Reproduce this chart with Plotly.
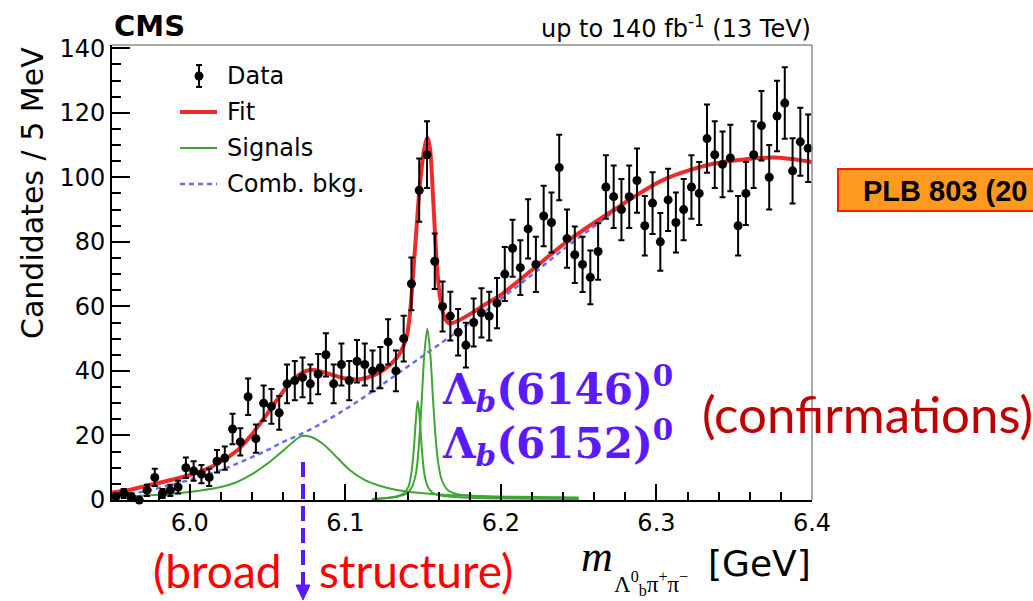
import numpy as np
import plotly.graph_objects as go

# ---------------- data ----------------
mass_low = 5.95          # GeV, lower edge of the histogram
bin_width = 0.005        # GeV (5 MeV bins)
counts = [1, 2, 1, 0, 3, 7, 2, 3, 4, 10,
          9, 8, 7, 12, 13, 22, 18, 32, 19, 30,
          29, 27, 36, 37, 38, 36, 39, 45, 36, 42,
          37, 43, 42, 40, 41, 49, 40, 50, 67, 96,
          107, 74, 60, 57, 52, 48, 55, 58, 57, 61,
          70, 78, 72, 84, 73, 88, 86, 103, 81, 76,
          73, 69, 77, 97, 94, 90, 94, 99, 85, 92,
          80, 93, 86, 90, 97, 95, 112, 107, 104, 106,
          85, 95, 107, 116, 100, 119, 123, 102, 111, 109]

fit_x = [5.950, 5.960, 5.971, 5.988, 6.000, 6.010, 6.020, 6.031, 6.039, 6.049,
         6.058, 6.067, 6.077, 6.088, 6.099, 6.109, 6.120, 6.129, 6.1351, 6.1394,
         6.1416, 6.1448, 6.1480, 6.1510, 6.1527, 6.1544, 6.1566, 6.1587, 6.1608, 6.1641,
         6.1673, 6.1726, 6.1812, 6.1898, 6.2000, 6.2187, 6.2423, 6.2723, 6.3044, 6.3366,
         6.3752, 6.4000]
fit_y = [2.3, 3.0, 4.3, 6.2, 7.8, 9.4, 11.9, 15.6, 19.8, 26.2,
         32.3, 37.6, 40.3, 39.3, 37.7, 37.4, 39.0, 42.0, 45.5, 50.5,
         58.0, 78.0, 98.0, 109.5, 112.3, 109.0, 92.0, 74.0, 63.0, 56.2,
         54.7, 55.6, 57.9, 60.6, 63.6, 70.8, 80.0, 89.8, 99.2, 104.2,
         106.1, 104.7]

bkg_x = [5.950, 5.960, 5.970, 5.980, 5.990, 6.000, 6.010, 6.020, 6.030, 6.040,
         6.050, 6.060, 6.070, 6.080, 6.090, 6.100, 6.110, 6.120, 6.130, 6.140,
         6.150, 6.160, 6.170, 6.180, 6.190, 6.200, 6.220, 6.240, 6.260, 6.280,
         6.300, 6.320, 6.340, 6.360, 6.380, 6.400]
bkg_y = [0.7, 1.6, 2.6, 3.7, 5.0, 6.2, 7.6, 9.3, 11.2, 13.3,
         15.5, 18.0, 20.1, 22.5, 25.2, 28.1, 31.2, 34.5, 37.9, 41.3,
         44.7, 48.1, 51.5, 54.9, 58.5, 62.3, 69.8, 77.6, 84.8, 92.0,
         98.0, 102.0, 104.6, 105.9, 106.1, 104.7]

broad_x = [5.962, 5.975, 5.990, 6.005, 6.020, 6.030, 6.040, 6.050, 6.060, 6.066,
           6.072, 6.078, 6.086, 6.095, 6.103, 6.112, 6.122, 6.133, 6.145, 6.160,
           6.180, 6.210, 6.250]
broad_y = [1.2, 1.5, 2.0, 2.8, 4.0, 5.5, 8.0, 11.3, 15.3, 17.8,
           19.8, 19.5, 17.2, 13.0, 9.2, 6.3, 4.4, 3.1, 2.3, 1.7,
           1.3, 1.0, 0.8]

sig6146_x = [6.117, 6.126, 6.132, 6.1373, 6.1405, 6.1425, 6.1440, 6.1453, 6.1465, 6.1478,
             6.1492, 6.1506, 6.1523, 6.1545, 6.1570, 6.1620, 6.1750, 6.2000, 6.2500]
sig6146_y = [0.3, 0.6, 1.0, 2.0, 4.0, 8.5, 15.5, 24.5, 30.7, 25.5,
             15.5, 8.8, 5.0, 3.0, 2.0, 1.3, 0.8, 0.5, 0.3]

sig6152_x = [6.118, 6.127, 6.134, 6.1395, 6.1430, 6.1455, 6.1472, 6.1490, 6.1508, 6.1527,
             6.1546, 6.1564, 6.1580, 6.1597, 6.1620, 6.1660, 6.1720, 6.1850, 6.2000, 6.2250,
             6.2500]
sig6152_y = [0.3, 0.6, 1.1, 2.0, 4.2, 8.5, 16.5, 30.0, 45.3, 53.1,
             45.3, 31.0, 19.5, 11.5, 6.2, 3.0, 1.8, 1.2, 0.9, 0.6,
             0.5]

x_tick_labels = ["6.0", "6.1", "6.2", "6.3", "6.4"]
x_tick_vals = [6.0, 6.1, 6.2, 6.3, 6.4]

# ---------------- derived ----------------
centers = [mass_low + (i + 0.5) * bin_width for i in range(len(counts))]
errors = [float(np.sqrt(c)) for c in counts]

RED = "#EE2B2B"
GREEN = "#3FA535"
BLUE = "#6B6BEE"
PURPLE = "#5A1AFF"
FONT = "DejaVu Sans"

W, H = 1033, 601
L, R, T, B = 112, 812, 45, 500   # plot-area pixel box


def px(x):
    return (x - L) / (R - L)


def py(y):
    return (B - y) / (B - T)


fig = go.Figure()
fig.add_trace(go.Scatter(x=bkg_x, y=bkg_y, mode="lines", line=dict(color=BLUE, width=2.5, dash="5px,4px", shape="spline")))
fig.add_trace(go.Scatter(x=broad_x, y=broad_y, mode="lines", line=dict(color=GREEN, width=2, shape="spline")))
fig.add_trace(go.Scatter(x=sig6146_x, y=sig6146_y, mode="lines", line=dict(color=GREEN, width=2, shape="spline", smoothing=0.8)))
fig.add_trace(go.Scatter(x=sig6152_x, y=sig6152_y, mode="lines", line=dict(color=GREEN, width=2, shape="spline", smoothing=0.8)))
fig.add_trace(go.Scatter(x=fit_x, y=fit_y, mode="lines", line=dict(color=RED, width=4, shape="spline", smoothing=0.8)))
fig.add_trace(go.Scatter(x=centers, y=counts, mode="markers", cliponaxis=False,
                         marker=dict(color="black", size=9),
                         error_y=dict(type="data", array=errors, color="black", thickness=2, width=3)))

fig.update_layout(
    width=W, height=H, margin=dict(l=L, r=W - R, t=T, b=H - B, pad=0),
    paper_bgcolor="white", plot_bgcolor="white", showlegend=False,
    xaxis=dict(range=[5.95, 6.4], showline=True, linecolor="black", linewidth=2,
               ticks="inside", ticklen=16, tickwidth=1.5, tickcolor="black",
               tickvals=x_tick_vals, ticktext=x_tick_labels,
               minor=dict(dtick=0.02, tick0=6.0, ticks="inside", ticklen=8, tickwidth=1.5, tickcolor="black"),
               showgrid=False, zeroline=False,
               tickfont=dict(family=FONT, size=24, color="black")),
    yaxis=dict(range=[0, 141], showline=True, linecolor="black", linewidth=2,
               ticks="inside", ticklen=18, tickwidth=1.5, tickcolor="black", dtick=20,
               minor=dict(dtick=5, ticks="inside", ticklen=9, tickwidth=1.5, tickcolor="black"),
               showgrid=False, zeroline=False,
               tickfont=dict(family=FONT, size=24, color="black")),
)

shapes = []
# grey frame top/right
shapes.append(dict(type="line", xref="paper", yref="paper", x0=0, x1=1, y0=1, y1=1, line=dict(color="#8c8c8c", width=1.5)))
shapes.append(dict(type="line", xref="paper", yref="paper", x0=1, x1=1, y0=0, y1=1, line=dict(color="#8c8c8c", width=1.5)))
# legend symbols
shapes.append(dict(type="line", xref="paper", yref="paper", x0=px(199), x1=px(199), y0=py(65), y1=py(87), line=dict(color="black", width=2)))
shapes.append(dict(type="line", xref="paper", yref="paper", x0=px(196), x1=px(202), y0=py(65), y1=py(65), line=dict(color="black", width=2)))
shapes.append(dict(type="line", xref="paper", yref="paper", x0=px(196), x1=px(202), y0=py(87), y1=py(87), line=dict(color="black", width=2)))
shapes.append(dict(type="circle", xref="paper", yref="paper", x0=px(194.5), x1=px(203.5), y0=py(71.5), y1=py(80.5), fillcolor="black", line=dict(color="black", width=0)))
shapes.append(dict(type="line", xref="paper", yref="paper", x0=px(180), x1=px(217), y0=py(112), y1=py(112), line=dict(color=RED, width=4)))
shapes.append(dict(type="line", xref="paper", yref="paper", x0=px(180), x1=px(217), y0=py(148), y1=py(148), line=dict(color=GREEN, width=2)))
shapes.append(dict(type="line", xref="paper", yref="paper", x0=px(180), x1=px(217), y0=py(184), y1=py(184), line=dict(color=BLUE, width=2.5, dash="5px,4px")))
# dashed arrow for the broad structure
shapes.append(dict(type="line", xref="paper", yref="paper", x0=px(303), x1=px(303), y0=py(462), y1=py(587), line=dict(color=PURPLE, width=4, dash="15px,7px")))
shapes.append(dict(type="path", xref="paper", yref="paper",
                   path=f"M {px(296)} {py(585)} L {px(310)} {py(585)} L {px(303)} {py(600)} Z",
                   fillcolor=PURPLE, line=dict(color=PURPLE, width=1)))
# orange reference box (runs off the page)
shapes.append(dict(type="rect", xref="paper", yref="paper", x0=px(838), x1=px(1045), y0=py(169), y1=py(211),
                   fillcolor="#FF9A1F", line=dict(color="#FF1A00", width=2)))
fig.update_layout(shapes=shapes)


def ann(text, x, y, xanchor="left", yanchor="middle", size=24, color="black", family=FONT, angle=0):
    fig.add_annotation(text=text, xref="paper", yref="paper", x=px(x), y=py(y), xanchor=xanchor, yanchor=yanchor,
                       showarrow=False, textangle=angle, font=dict(family=family, size=size, color=color))


ann("<b>CMS</b>", 112, 26, size=29)
ann("up to 140 fb<sup>-1</sup> (13 TeV)", 813, 27, xanchor="right", size=24)
ann("Candidates / 5 MeV", 33, 193, xanchor="center", size=30, angle=-90)
ann("Data", 225, 76)
ann("Fit", 225, 112)
ann("Signals", 225, 148)
ann("Comb. bkg.", 225, 184)
ann("<i>m</i>", 579, 556, size=44, family="Liberation Serif")
ann("Λ<sup>0</sup><sub>b</sub>π<sup>+</sup>π<sup>−</sup>", 612, 583, size=23, family="Liberation Serif")
ann("[GeV]", 813, 563, xanchor="right", size=36)
ann("<b>Λ<sub><i>b</i></sub>(6146)<sup>0</sup></b>", 440, 388, size=42, color=PURPLE, family="DejaVu Serif")
ann("<b>Λ<sub><i>b</i></sub>(6152)<sup>0</sup></b>", 440, 442, size=42, color=PURPLE, family="DejaVu Serif")
ann("(confirmations)", 700, 413, size=51, color="#C00000", family="Lato")
ann("(broad", 151, 600, yanchor="bottom", size=46, color="#FF0000", family="Lato")
ann("structure)", 317, 600, yanchor="bottom", size=46, color="#FF0000", family="Lato")
ann("<b>PLB 803 (20</b>", 861, 191, size=29, family="Liberation Sans")

fig.write_html("out.html")
